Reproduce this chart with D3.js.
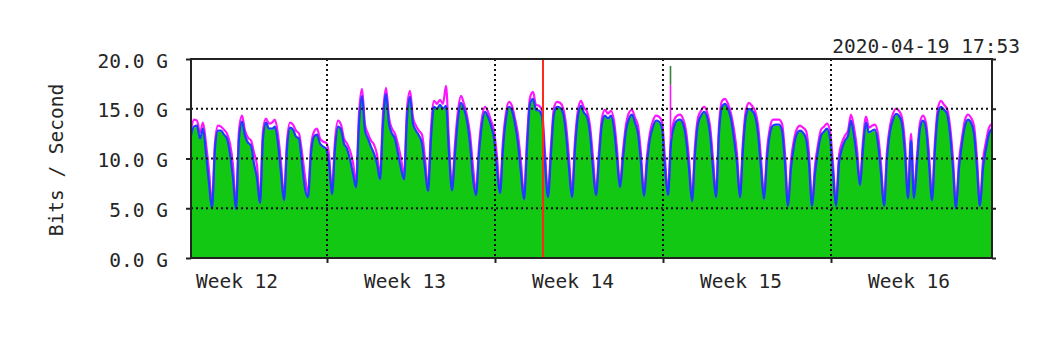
<!DOCTYPE html>
<meta charset="utf-8">
<script src="https://d3js.org/d3.v7.min.js"></script>
<style>
  body { margin: 0; background: #fff; }
</style>
<div id="chart"></div>
<script>
// sample grid: every 3 hours from the left edge of the graph (UTC)
const startTime = "2020-03-17 08:00";
const endTime = "2020-04-19 17:00";
const stepHours = 3;
const stampText = "2020-04-19 17:53";
const yTicks = [0, 5, 10, 15, 20];
const yTitle = "Bits / Second";

// incoming traffic, Gbit/s (green area) - one row per day
const inBits = [
  12.2, 13.0, 13.2, 11.9, 12.9, 10.3,
  7.3, 4.9, 10.8, 12.7, 12.7, 12.3, 11.9, 10.3,
  7.8, 4.8, 11.8, 13.6, 12.2, 11.5, 11.2, 9.3,
  7.8, 5.4, 11.8, 13.5, 12.9, 12.9, 13.1, 11.3,
  8.3, 5.7, 10.8, 13.0, 12.8, 12.1, 11.9, 9.3,
  6.8, 6.0, 10.3, 12.1, 12.3, 11.4, 11.1, 10.9,
  9.3, 6.3, 10.8, 13.1, 12.8, 11.4, 10.9, 9.7,
  8.3, 7.0, 13.3, 16.2, 12.7, 11.9, 11.1, 10.3,
  9.3, 7.8, 13.3, 16.4, 13.4, 12.4, 11.9, 10.3,
  8.8, 7.8, 13.8, 16.1, 13.4, 12.7, 12.2, 11.3,
  8.8, 6.6, 11.8, 15.1, 14.9, 15.3, 14.9, 15.1,
  10.3, 6.7, 10.3, 13.9, 15.5, 14.9, 13.7, 11.3,
  7.8, 6.2, 10.3, 13.4, 14.6, 14.1, 13.2, 11.9,
  8.8, 6.4, 10.8, 13.9, 15.1, 14.7, 13.4, 11.3,
  8.3, 5.8, 10.8, 15.4, 15.9, 14.8, 14.7, 14.0,
  9.3, 6.0, 10.3, 14.4, 15.1, 15.0, 14.5, 12.3,
  8.8, 6.0, 10.8, 14.2, 15.2, 14.5, 14.1, 12.3,
  8.8, 6.2, 9.8, 13.4, 14.2, 13.9, 14.2, 12.8,
  9.8, 7.0, 9.8, 12.7, 13.9, 14.3, 13.5, 12.3,
  9.3, 6.1, 9.3, 11.9, 13.1, 13.7, 13.6, 12.8,
  8.8, 6.2, 11.3, 13.1, 13.7, 13.8, 13.4, 11.8,
  8.8, 5.6, 10.3, 13.4, 14.2, 14.6, 14.1, 12.3,
  8.8, 6.0, 12.3, 15.1, 15.4, 14.9, 13.9, 11.8,
  9.3, 6.0, 10.8, 14.2, 14.9, 14.7, 14.2, 12.3,
  8.8, 5.8, 9.8, 12.4, 13.2, 13.3, 13.3, 12.6,
  9.3, 5.1, 8.8, 11.2, 12.4, 12.7, 12.5, 11.8,
  9.3, 5.1, 8.3, 10.7, 12.2, 12.6, 12.9, 11.8,
  8.3, 5.1, 9.3, 10.9, 11.7, 12.2, 13.7, 12.1,
  9.8, 7.2, 10.8, 13.5, 12.5, 12.7, 12.8, 11.3,
  8.3, 5.1, 9.8, 12.6, 13.8, 14.4, 14.2, 13.3,
  10.3, 5.9, 11.6, 5.9, 9.3, 12.9, 13.7, 12.8,
  9.3, 5.7, 10.8, 14.4, 15.1, 14.8, 14.4, 12.3,
  8.8, 4.9, 8.8, 11.4, 13.2, 13.8, 13.5, 12.3,
  8.8, 5.1, 8.8, 10.9, 12.4, 12.9
];

// outgoing traffic, Gbit/s (blue line)
const outBits = [
  12.3, 13.2, 13.3, 12.0, 13.0, 10.5,
  7.5, 5.0, 11.0, 12.8, 12.8, 12.4, 12.0, 10.5,
  8.0, 4.9, 12.0, 13.7, 12.3, 11.6, 11.3, 9.5,
  8.0, 5.5, 12.0, 13.6, 13.0, 13.0, 13.2, 11.5,
  8.5, 5.8, 11.0, 13.1, 12.9, 12.2, 12.0, 9.5,
  7.0, 6.1, 10.5, 12.2, 12.4, 11.5, 11.2, 11.0,
  9.5, 6.4, 11.0, 13.2, 12.9, 11.5, 11.0, 9.9,
  8.5, 7.1, 13.5, 16.3, 12.8, 12.0, 11.2, 10.5,
  9.5, 7.9, 13.5, 16.5, 13.5, 12.5, 12.0, 10.5,
  9.0, 7.9, 14.0, 16.2, 13.5, 12.8, 12.3, 11.5,
  9.0, 6.7, 12.0, 15.2, 15.0, 15.4, 15.0, 15.3,
  10.5, 6.8, 10.5, 14.0, 15.6, 15.0, 13.8, 11.5,
  8.0, 6.3, 10.5, 13.5, 14.7, 14.2, 13.3, 12.0,
  9.0, 6.5, 11.0, 14.0, 15.2, 14.8, 13.5, 11.5,
  8.5, 5.9, 11.0, 15.5, 16.0, 14.9, 14.8, 14.2,
  9.5, 6.1, 10.5, 14.5, 15.2, 15.1, 14.6, 12.5,
  9.0, 6.1, 11.0, 14.3, 15.3, 14.6, 14.2, 12.5,
  9.0, 6.3, 10.0, 13.5, 14.3, 14.0, 14.3, 13.0,
  10.0, 7.1, 10.0, 12.8, 14.0, 14.4, 13.6, 12.5,
  9.5, 6.2, 9.5, 12.0, 13.2, 13.8, 13.7, 13.0,
  9.0, 6.3, 11.5, 13.2, 13.8, 13.9, 13.5, 12.0,
  9.0, 5.7, 10.5, 13.5, 14.3, 14.7, 14.2, 12.5,
  9.0, 6.1, 12.5, 15.2, 15.5, 15.0, 14.0, 12.0,
  9.5, 6.1, 11.0, 14.3, 15.0, 14.8, 14.3, 12.5,
  9.0, 5.9, 10.0, 12.5, 13.3, 13.4, 13.4, 12.8,
  9.5, 5.2, 9.0, 11.3, 12.5, 12.8, 12.6, 12.0,
  9.5, 5.2, 8.5, 10.8, 12.3, 12.7, 13.0, 12.0,
  8.5, 5.2, 9.5, 11.0, 11.8, 12.3, 13.8, 12.3,
  10.0, 7.3, 11.0, 13.6, 12.6, 12.8, 12.9, 11.5,
  8.5, 5.2, 10.0, 12.7, 13.9, 14.5, 14.3, 13.5,
  10.5, 6.0, 11.8, 6.0, 9.5, 13.0, 13.8, 13.0,
  9.5, 5.8, 11.0, 14.5, 15.2, 14.9, 14.5, 12.5,
  9.0, 5.0, 9.0, 11.5, 13.3, 13.9, 13.6, 12.5,
  9.0, 5.2, 9.0, 11.0, 12.5, 13.0
];

// max outgoing, Gbit/s (magenta line)
const maxOutBits = [
  12.9, 13.9, 13.8, 12.6, 13.6, 11.5,
  8.8, 5.4, 11.6, 13.3, 13.2, 12.9, 12.5, 11.5,
  9.3, 5.3, 12.8, 14.3, 12.8, 12.1, 11.8, 10.6,
  9.3, 5.9, 12.8, 14.0, 13.5, 13.6, 13.9, 12.4,
  9.6, 6.2, 11.7, 13.6, 13.4, 12.8, 12.5, 10.6,
  8.2, 6.5, 11.2, 12.7, 13.0, 12.0, 11.7, 11.6,
  10.4, 6.8, 11.8, 13.8, 13.4, 12.0, 11.5, 10.8,
  9.6, 7.5, 14.5, 17.0, 13.4, 12.5, 11.8, 11.4,
  10.4, 8.3, 14.5, 17.1, 14.1, 13.0, 12.5, 11.4,
  10.0, 8.3, 15.0, 16.8, 14.1, 13.3, 12.8, 12.4,
  10.0, 7.1, 13.0, 15.8, 15.5, 15.9, 15.5, 17.3,
  11.6, 7.2, 11.5, 14.8, 16.3, 15.5, 14.3, 12.5,
  9.2, 6.7, 11.3, 14.1, 15.2, 14.7, 13.8, 12.8,
  10.2, 6.9, 11.8, 14.6, 15.7, 15.3, 14.0, 12.4,
  9.6, 6.3, 11.9, 16.1, 16.7, 15.4, 15.3, 14.8,
  10.6, 6.5, 11.3, 15.1, 15.7, 15.6, 15.1, 13.4,
  10.1, 6.5, 11.8, 14.9, 15.8, 15.1, 14.7, 13.3,
  10.1, 6.7, 10.8, 14.1, 14.9, 14.5, 14.8, 13.8,
  11.0, 7.5, 10.8, 13.4, 14.6, 14.9, 14.1, 13.3,
  10.5, 6.6, 10.3, 12.6, 13.8, 14.3, 14.2, 13.7,
  10.0, 6.7, 12.3, 13.8, 14.3, 14.4, 14.0, 12.8,
  10.0, 6.1, 11.3, 14.1, 14.8, 15.2, 14.7, 13.3,
  10.0, 6.5, 13.3, 15.8, 16.0, 15.5, 14.5, 12.9,
  10.5, 6.5, 11.8, 14.9, 15.6, 15.3, 14.8, 13.4,
  10.0, 6.3, 10.8, 13.1, 13.9, 13.9, 13.9, 13.5,
  10.5, 5.6, 9.8, 11.9, 13.0, 13.3, 13.1, 12.8,
  10.5, 5.6, 9.3, 11.4, 12.9, 13.2, 13.5, 12.8,
  9.5, 5.6, 10.3, 11.6, 12.3, 12.8, 14.4, 13.1,
  11.0, 7.7, 11.8, 14.2, 13.1, 13.3, 13.4, 12.4,
  9.5, 5.6, 10.8, 13.3, 14.5, 15.0, 14.8, 14.1,
  11.5, 6.4, 12.5, 6.6, 10.3, 13.6, 14.3, 13.6,
  10.5, 6.2, 11.8, 15.1, 15.8, 15.4, 15.0, 13.3,
  10.0, 5.4, 9.8, 12.1, 13.9, 14.4, 14.1, 13.3,
  10.0, 5.6, 9.8, 11.7, 13.1, 13.5
];

// short max spikes (max in = dark green, max out = magenta)
const spikeTimes = ["2020-04-06 07:30"];
const spikeMaxIn = [19.3];
const spikeMaxOut = [17.4];
const spikeBase = [12.0];

const W = 1048, H = 338;
const plot = {left: 191, right: 992, top: 59, bottom: 258};
const fontFamily = '"DejaVu Sans Mono", monospace';
const fontSize = "19.5px";
const ink = "#262626";

const parseTime = d3.utcParse("%Y-%m-%d %H:%M");
const t0 = parseTime(startTime);
const t1 = parseTime(endTime);

const samples = outBits.map((v, i) => ({
  t: d3.utcHour.offset(t0, i * stepHours),
  inV: inBits[i],
  outV: v,
  maxV: maxOutBits[i]
}));

const x = d3.scaleUtc().domain([t0, t1]).range([plot.left, plot.right]);
const y = d3.scaleLinear().domain([0, 20]).range([plot.bottom, plot.top]);
const curve = d3.curveMonotoneX;

const svg = d3.select("#chart").append("svg")
  .attr("width", W).attr("height", H)
  .style("display", "block");

svg.append("defs").append("clipPath").attr("id", "plotClip")
  .append("rect")
  .attr("x", plot.left).attr("y", plot.top)
  .attr("width", plot.right - plot.left).attr("height", plot.bottom - plot.top);

const data = svg.append("g").attr("clip-path", "url(#plotClip)");

// green area (in)
data.append("path")
  .datum(samples)
  .attr("fill", "#13c813")
  .attr("d", d3.area().curve(curve).x(d => x(d.t)).y0(y(0)).y1(d => y(d.inV)));

// magenta (max out)
data.append("path")
  .datum(samples)
  .attr("fill", "none")
  .attr("stroke", "#ff14ff")
  .attr("stroke-width", 2.2)
  .attr("d", d3.line().curve(curve).x(d => x(d.t)).y(d => y(d.maxV)));

// blue (out)
data.append("path")
  .datum(samples)
  .attr("fill", "none")
  .attr("stroke", "#1c3cff")
  .attr("stroke-width", 2.2)
  .attr("d", d3.line().curve(curve).x(d => x(d.t)).y(d => y(d.outV)));

// spikes
spikeTimes.forEach((s, i) => {
  const sx = x(parseTime(s));
  data.append("line")
    .attr("x1", sx).attr("x2", sx)
    .attr("y1", y(spikeMaxOut[i])).attr("y2", y(spikeBase[i]))
    .attr("stroke", "#ff14ff").attr("stroke-width", 1.6);
  data.append("line")
    .attr("x1", sx).attr("x2", sx)
    .attr("y1", y(spikeMaxIn[i])).attr("y2", y(spikeMaxOut[i]))
    .attr("stroke", "#3b803b").attr("stroke-width", 1.6);
});

// dotted grid
const grid = svg.append("g")
  .attr("stroke", "#111")
  .attr("stroke-width", 2)
  .attr("stroke-dasharray", "2,3");

grid.selectAll("line.h")
  .data(yTicks.filter(v => v > 0 && v < 20))
  .join("line")
  .attr("x1", plot.left).attr("x2", plot.right)
  .attr("y1", d => y(d)).attr("y2", d => y(d));

const mondays = d3.utcMonday.range(t0, t1);
grid.selectAll("line.v")
  .data(mondays)
  .join("line")
  .attr("x1", d => x(d)).attr("x2", d => x(d))
  .attr("y1", plot.top).attr("y2", plot.bottom);

// month boundary
svg.selectAll("line.month")
  .data(d3.utcMonth.range(d3.utcDay.offset(t0, 1), t1))
  .join("line")
  .attr("x1", d => x(d)).attr("x2", d => x(d))
  .attr("y1", plot.top).attr("y2", plot.bottom)
  .attr("stroke", "#ff2a1a")
  .attr("stroke-width", 2);

// frame
svg.append("rect")
  .attr("x", plot.left).attr("y", plot.top)
  .attr("width", plot.right - plot.left).attr("height", plot.bottom - plot.top)
  .attr("fill", "none")
  .attr("stroke", "#222")
  .attr("stroke-width", 2);

// left axis
const yAxis = svg.append("g")
  .attr("transform", `translate(${plot.left},0)`)
  .call(d3.axisLeft(y).tickValues(yTicks).tickSize(5).tickPadding(18)
    .tickFormat(d => d.toFixed(1) + " G"));
yAxis.select(".domain").remove();
yAxis.selectAll("line").attr("stroke", "#222").attr("stroke-width", 2);
yAxis.selectAll("text")
  .attr("font-family", fontFamily).attr("font-size", fontSize)
  .attr("fill", ink).attr("dy", "0.42em");

// right ticks
const yRight = svg.append("g")
  .attr("transform", `translate(${plot.right},0)`)
  .call(d3.axisRight(y).tickValues(yTicks).tickSize(4).tickFormat(""));
yRight.select(".domain").remove();
yRight.selectAll("line").attr("stroke", "#222").attr("stroke-width", 2);

// bottom ticks at week boundaries
const xAxis = svg.append("g")
  .attr("transform", `translate(0,${plot.bottom})`)
  .call(d3.axisBottom(x).tickValues(mondays).tickSize(5).tickFormat(""));
xAxis.select(".domain").remove();
xAxis.selectAll("line").attr("stroke", "#222").attr("stroke-width", 2);

// week labels
const weekStarts = d3.utcMonday.range(d3.utcMonday.floor(t0), t1);
svg.selectAll("text.week")
  .data(weekStarts)
  .join("text")
  .attr("x", d => x(d3.utcHour.offset(d, 78)))
  .attr("y", 288)
  .attr("text-anchor", "middle")
  .attr("font-family", fontFamily).attr("font-size", fontSize)
  .attr("fill", ink)
  .text(d3.utcFormat("Week %V"));

// y title
svg.append("text")
  .attr("transform", "translate(63,160) rotate(-90)")
  .attr("text-anchor", "middle")
  .attr("font-family", fontFamily).attr("font-size", fontSize)
  .attr("fill", ink)
  .text(yTitle);

// timestamp
svg.append("text")
  .attr("x", 1020).attr("y", 53)
  .attr("text-anchor", "end")
  .attr("font-family", fontFamily).attr("font-size", fontSize)
  .attr("fill", ink)
  .text(stampText);
</script>
